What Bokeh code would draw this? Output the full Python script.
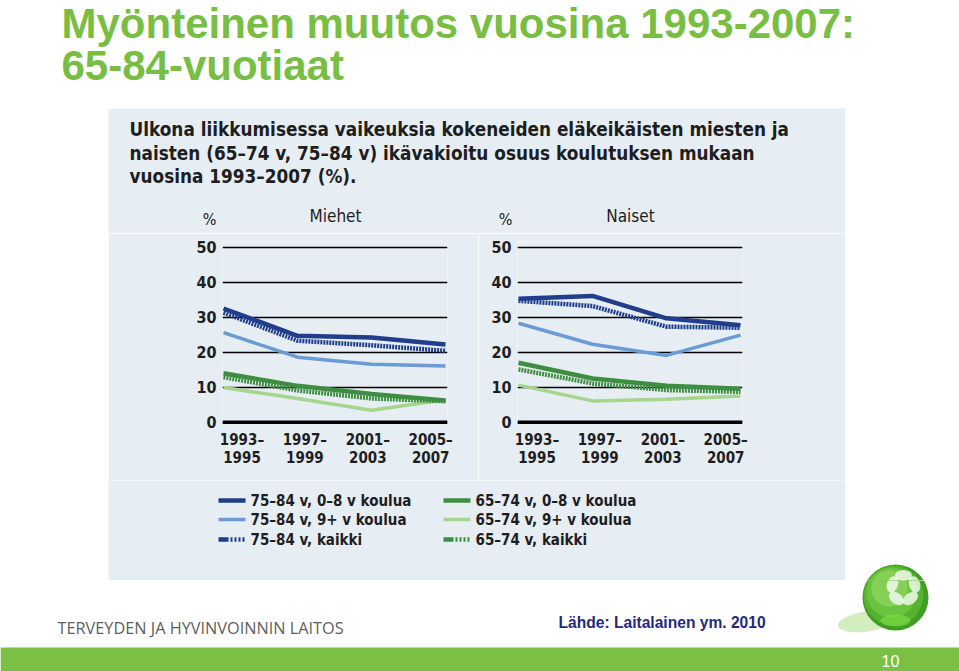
from bokeh.plotting import figure
from bokeh.layouts import column, row
from bokeh.models import Range1d, FixedTicker, Spacer, Span, CustomJSTickFormatter
from bokeh.embed import file_html
from bokeh.resources import INLINE
from bokeh.core.properties import value

# ---------------- data ----------------
periods = ["1993–\n1995", "1997–\n1999", "2001–\n2003", "2005–\n2007"]
y_ticks = [0, 10, 20, 30, 40, 50]
series_names = ["75–84 v, 0–8 v koulua", "75–84 v, 9+ v koulua", "75–84 v, kaikki",
                "65–74 v, 0–8 v koulua", "65–74 v, 9+ v koulua", "65–74 v, kaikki"]

# Miehet (men)
men_75_84_low = [32.5, 24.7, 24.2, 22.2]
men_75_84_high = [25.6, 18.6, 16.6, 16.1]
men_75_84_all = [31.3, 23.3, 22.0, 20.4]
men_65_74_low = [14.0, 10.4, 8.1, 6.2]
men_65_74_high = [9.9, 6.8, 3.4, 6.4]
men_65_74_all = [12.9, 9.1, 6.8, 6.0]

# Naiset (women)
women_75_84_low = [35.3, 36.1, 29.7, 27.7]
women_75_84_high = [28.3, 22.3, 19.1, 24.9]
women_75_84_all = [34.7, 33.2, 27.3, 27.0]
women_65_74_low = [17.0, 12.5, 10.4, 9.6]
women_65_74_high = [10.6, 6.1, 6.6, 7.5]
women_65_74_all = [15.1, 11.1, 9.2, 8.7]

title_lines = ["Myönteinen muutos vuosina 1993-2007:", "65-84-vuotiaat"]
panel_lines = ["Ulkona liikkumisessa vaikeuksia kokeneiden eläkeikäisten miesten ja",
               "naisten (65–74 v, 75–84 v) ikävakioitu osuus koulutuksen mukaan",
               "vuosina 1993–2007 (%)."]

# ---------------- styles ----------------
BG = "#E6EDF3"
GREEN = "#78BE43"
DARK_BLUE = "#213E8C"
LIGHT_BLUE = "#6A9BD5"
DARK_GREEN = "#3E8E41"
LIGHT_GREEN = "#A5D68B"
TXT = "#1E1E1E"
NARROW = "Liberation Sans Narrow, DejaVu Sans Condensed, sans-serif"

styles = [
    dict(color=DARK_BLUE, width=4.5, dash="solid"),
    dict(color=LIGHT_BLUE, width=3.5, dash="solid"),
    dict(color=DARK_BLUE, width=4.5, dash="2 1"),
    dict(color=DARK_GREEN, width=4.5, dash="solid"),
    dict(color=LIGHT_GREEN, width=3.5, dash="solid"),
    dict(color=DARK_GREEN, width=4.5, dash="2 1"),
]
draw_order = [4, 1, 5, 2, 3, 0]


def canvas(x0, y0, w, h, bg):
    p = figure(width=w, height=h, x_range=Range1d(x0, x0 + w), y_range=Range1d(y0 + h, y0),
               output_backend="svg", toolbar_location=None, min_border=0,
               x_axis_location=None, y_axis_location=None,
               background_fill_color=bg, border_fill_color=bg, outline_line_color=None)
    p.grid.visible = False
    return p


PX_X = 74.0   # pixels per period
PX_Y = 3.5    # pixels per percent
FRAME_W = 225
FRAME_H = 186


def chart(series, fig_w, border_left):
    x0 = -1.0 / PX_X
    y0 = -1.5
    p = figure(width=fig_w, height=247,
               x_range=Range1d(x0, x0 + FRAME_W / PX_X),
               y_range=Range1d(y0, y0 + FRAME_H / PX_Y),
               output_backend="svg", toolbar_location=None,
               min_border_left=border_left, min_border_right=fig_w - border_left - FRAME_W,
               min_border_top=8, min_border_bottom=247 - 8 - FRAME_H,
               background_fill_color=BG, border_fill_color=BG, outline_line_color=None)
    # y axis
    p.yaxis.ticker = FixedTicker(ticks=y_ticks)
    p.yaxis.axis_line_color = None
    p.yaxis.major_tick_line_color = None
    p.yaxis.minor_tick_line_color = None
    p.yaxis.major_tick_out = 0
    p.yaxis.major_tick_in = 0
    p.yaxis.major_label_standoff = 6
    p.yaxis.major_label_text_font = NARROW
    p.yaxis.major_label_text_font_size = "16px"
    p.yaxis.major_label_text_font_style = "bold"
    p.yaxis.major_label_text_color = TXT
    # x axis (labels spread inside the data span)
    n = len(periods)
    p.xaxis.ticker = FixedTicker(ticks=[0.25 + i * 0.85 for i in range(n)])
    p.xaxis.formatter = CustomJSTickFormatter(args=dict(labels=periods), code="return labels[index];")
    p.xaxis.axis_line_color = None
    p.xaxis.major_tick_line_color = None
    p.xaxis.minor_tick_line_color = None
    p.xaxis.major_tick_out = 0
    p.xaxis.major_tick_in = 0
    p.xaxis.major_label_standoff = 3
    p.xaxis.major_label_text_font = NARROW
    p.xaxis.major_label_text_font_size = "15px"
    p.xaxis.major_label_text_font_style = "bold"
    p.xaxis.major_label_text_color = TXT
    p.xaxis.major_label_text_line_height = 1.05
    # grid
    p.xgrid.visible = False
    p.ygrid.ticker = FixedTicker(ticks=y_ticks)
    p.ygrid.grid_line_color = "black"
    p.ygrid.grid_line_width = 1.5
    p.add_layout(Span(location=0, dimension="width", line_color="black", line_width=3.5, level="underlay"))
    xs = list(range(n))
    for k in draw_order:
        st = styles[k]
        p.line(xs, series[k], line_color=st["color"], line_width=st["width"], line_dash=st["dash"])
    return p


# ---------------- top title ----------------
top = canvas(0, 0, 959, 108, "white")
top.text(x=[61, 61], y=[23, 65], text=title_lines, text_font=value("Liberation Sans"),
         text_font_size="42px", text_font_style="bold", text_color=GREEN,
         text_baseline="middle", text_align="left")

# ---------------- panel header ----------------
header = canvas(108, 108, 737, 125, BG)
header.text(x=[129, 129, 129], y=[129, 153, 176], text=panel_lines, text_font=value(NARROW),
            text_font_size="18.8px", text_font_style="bold", text_color=TXT,
            text_baseline="middle", text_align="left")
header.text(x=[209, 505], y=[219, 219], text=["%", "%"], text_font=value(NARROW),
            text_font_size="16px", text_color=TXT, text_baseline="middle", text_align="center")
header.text(x=[335, 630], y=[215, 215], text=["Miehet", "Naiset"], text_font=value(NARROW),
            text_font_size="17px", text_color=TXT, text_baseline="middle", text_align="center")

# ---------------- charts ----------------
men = [men_75_84_low, men_75_84_high, men_75_84_all, men_65_74_low, men_65_74_high, men_65_74_all]
women = [women_75_84_low, women_75_84_high, women_75_84_all, women_65_74_low, women_65_74_high, women_65_74_all]
left = chart(men, 370, 114)
right = chart(women, 367, 39)

# ---------------- legend ----------------
legend = canvas(108, 480, 737, 100, BG)
leg_x = [218, 218, 218, 443, 443, 443]
leg_y = [500, 519, 539, 500, 519, 539]
for k in range(len(series_names)):
    st = styles[k]
    dash = st["dash"] if st["dash"] == "solid" else "10 2 2 2 2 2 2 2 2 2"
    legend.segment(x0=[leg_x[k]], y0=[leg_y[k]], x1=[leg_x[k] + 27], y1=[leg_y[k]],
                   line_color=st["color"], line_width=st["width"], line_dash=dash)
legend.text(x=[v + 32 for v in leg_x], y=leg_y, text=series_names, text_font=value(NARROW),
            text_font_size="15px", text_font_style="bold", text_color=TXT,
            text_baseline="middle", text_align="left")


# ---------------- logo (drawn in right column and footer) ----------------
def logo(p):
    p.ellipse(x=[866], y=[621], width=58, height=20, angle=0.15, fill_color="#BFE6A2",
              fill_alpha=0.7, line_color=None)
    p.circle(x=[895], y=[597], radius=33, fill_color="#3E9E22", line_color=None)
    p.circle(x=[893], y=[595], radius=30, fill_color="#55B32F", line_color=None)
    p.circle(x=[891], y=[592], radius=25, fill_color="#6CC33F", line_color=None)
    p.circle(x=[889], y=[588], radius=18, fill_color="#86D058", line_color=None)
    p.ellipse(x=[895], y=[620], width=30, height=12, fill_color="#7FE04A", fill_alpha=0.6, line_color=None)
    petals_x = [903, 914, 910, 896, 892]
    petals_y = [575, 584, 598, 598, 584]
    petals_a = [1.57, 0.31, -0.94, 0.94, -0.31]
    p.ellipse(x=petals_x, y=petals_y, width=11, height=17, angle=petals_a,
              fill_color="white", fill_alpha=0.75, line_color=None)


side = canvas(845, 108, 114, 472, "white")
logo(side)

# ---------------- footer ----------------
footer = canvas(0, 580, 959, 91, "white")
logo(footer)
footer.quad(left=[0], right=[959], top=[647], bottom=[671], fill_color="#7CBF45", line_color=None)
footer.text(x=[57], y=[627], text=["TERVEYDEN JA HYVINVOINNIN LAITOS"], text_font=value("Open Sans"),
            text_font_size="16.3px", text_color="#5E5E5E", text_baseline="middle", text_align="left")
footer.text(x=[558], y=[622], text=["Lähde: Laitalainen ym. 2010"], text_font=value("Liberation Sans"),
            text_font_size="15.6px", text_font_style="bold", text_color="#26297A",
            text_baseline="middle", text_align="left")
footer.text(x=[890], y=[660], text=["10"], text_font=value("Liberation Sans"),
            text_font_size="16px", text_color="white", text_baseline="middle", text_align="center")

layout = column(
    top,
    row(Spacer(width=108, height=472), column(header, row(left, right), legend), side),
    footer,
)

open("out.html", "w").write(file_html(layout, INLINE))
